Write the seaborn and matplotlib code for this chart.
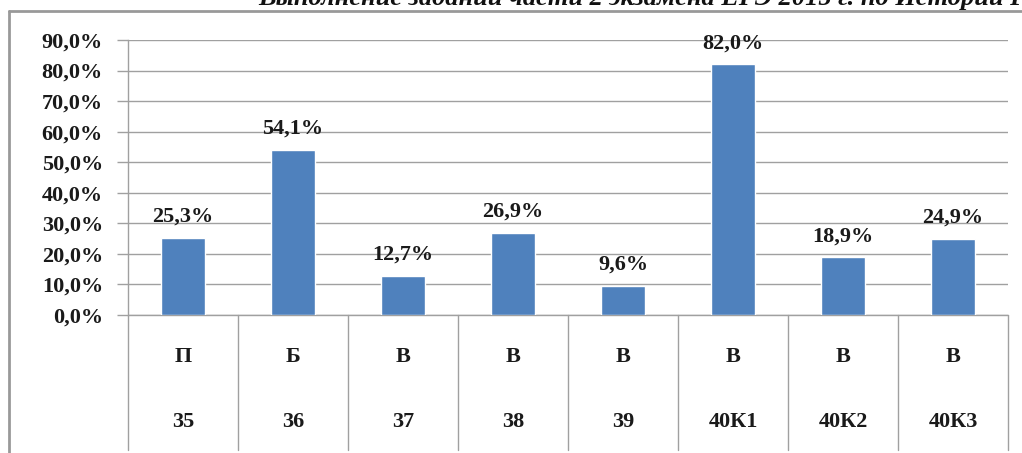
import matplotlib
matplotlib.use("Agg")
import matplotlib.pyplot as plt
import seaborn as sns
from matplotlib.lines import Line2D
import matplotlib.transforms as mtransforms

letters = ["П", "Б", "В", "В", "В", "В", "В", "В"]
codes = ["35", "36", "37", "38", "39", "40К1", "40К2", "40К3"]
values = [25.3, 54.1, 12.7, 26.9, 9.6, 82.0, 18.9, 24.9]
yticks = [0, 10, 20, 30, 40, 50, 60, 70, 80, 90]
title = "Выполнение заданий части 2 экзамена ЕГЭ 2015 г. по Истории России"

sns.set_theme(style="white")
plt.rcParams['font.family'] = ['Liberation Serif', 'DejaVu Serif']
plt.rcParams['font.weight'] = 'bold'

FS = 16
W, H = 1022, 453
fig = plt.figure(figsize=(W / 100, H / 100), dpi=100)
ax = fig.add_axes([128 / W, (H - 315) / H, (1008 - 128) / W, (315 - 40) / H])

sns.barplot(x=list(range(len(values))), y=values, color="#4F81BD", saturation=1,
            width=0.4, ax=ax, zorder=3)

ax.set_xlim(-0.5, len(values) - 0.5)
ax.set_ylim(0, 90)
ax.set_yticks(yticks)
ax.set_yticklabels([f"{v:.1f}".replace(".", ",") + "%" for v in yticks],
                   fontsize=FS, fontweight='bold', color='#1a1a1a')
ax.tick_params(axis='y', length=8, width=1, color='#a0a0a0', pad=10, left=True)
ax.set_xticks([])
ax.set_xlabel("")
ax.set_ylabel("")
ax.grid(axis='y', color='#a0a0a0', linewidth=1, zorder=0)
ax.set_axisbelow(True)
for s in ['top', 'right', 'bottom']:
    ax.spines[s].set_visible(False)
ax.spines['left'].set_color('#a0a0a0')
ax.spines['left'].set_linewidth(1)

# data labels
for i, v in enumerate(values):
    ax.annotate(f"{v:.1f}".replace(".", ",") + "%", (i, v), xytext=(0, 8),
                textcoords='offset points', ha='center', va='bottom',
                fontsize=FS, fontweight='bold', color='#1a1a1a')

# category axis (two levels)
trans = mtransforms.blended_transform_factory(ax.transData, ax.transAxes)
ax_h = (315 - 40)
for i in range(len(values)):
    ax.text(i, -(357 - 315) / ax_h, letters[i], transform=trans, ha='center', va='center',
            fontsize=FS, fontweight='bold', color='#1a1a1a')
    ax.text(i, -(422 - 315) / ax_h, codes[i], transform=trans, ha='center', va='center',
            fontsize=FS, fontweight='bold', color='#1a1a1a')
for b in range(len(values) + 1):
    ax.plot([b - 0.5, b - 0.5], [0, -(450 - 315) / ax_h], transform=trans,
            color='#a0a0a0', linewidth=1, clip_on=False)
ax.plot([-0.5, len(values) - 0.5], [0, 0], transform=trans, color='#a0a0a0',
        linewidth=1, clip_on=False)

# outer frame
fig.add_artist(Line2D([9 / W, 9 / W], [0, 1 - 11 / H], transform=fig.transFigure,
                      color='#999999', linewidth=2))
fig.add_artist(Line2D([9 / W, 1], [1 - 11 / H, 1 - 11 / H], transform=fig.transFigure,
                      color='#999999', linewidth=2))

fig.text(258 / W, 1 - 5 / H, title, ha='left', va='baseline', fontsize=19,
         fontweight='bold', fontstyle='italic', color='#111111')

fig.savefig("out.png", dpi=100, facecolor='white')
